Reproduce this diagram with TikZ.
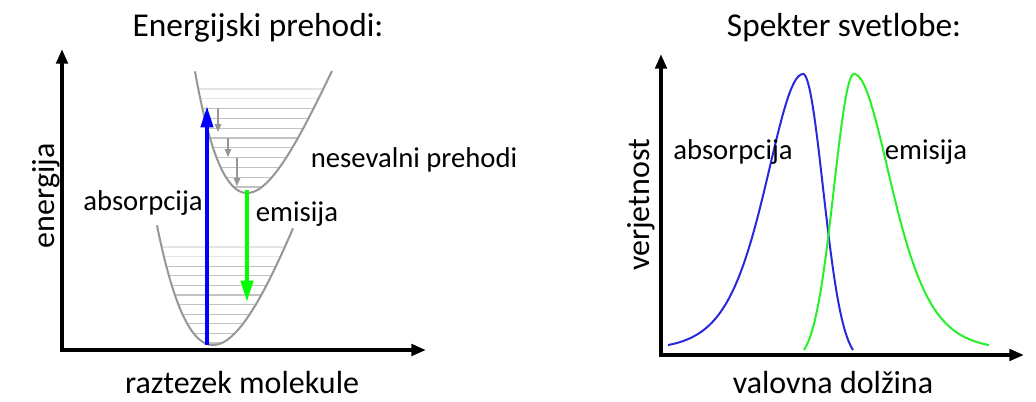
\documentclass[tikz,border=0pt]{standalone}
\usepackage{fontspec}
\setmainfont{Carlito}
\usetikzlibrary{arrows.meta}
\usetikzlibrary{positioning}
% lower well (ground state)
\pgfmathsetmacro{\gx}{213}
\pgfmathsetmacro{\gy}{345}
\pgfmathsetmacro{\gb}{0.0055}
\pgfmathsetmacro{\gD}{923}
% upper well (excited state)
\pgfmathsetmacro{\ex}{247}
\pgfmathsetmacro{\ey}{193}
\pgfmathsetmacro{\eb}{0.0073}
\pgfmathsetmacro{\eD}{572}
% spectrum
\pgfmathsetmacro{\sbase}{350}
\pgfmathsetmacro{\sh}{276}
\newcommand{\labfont}{\fontsize{21.5}{24}\selectfont}
\newcommand{\axfont}{\fontsize{24}{28}\selectfont}
\newcommand{\titfont}{\fontsize{25}{30}\selectfont}
\definecolor{wellgray}{RGB}{150,150,150}
\definecolor{absblue}{RGB}{0,0,255}
\definecolor{emgreen}{RGB}{0,255,0}
\definecolor{curveblue}{RGB}{40,40,220}
\definecolor{curvegreen}{RGB}{40,240,40}

\begin{document}
\begin{tikzpicture}[x=0.75pt, y=-0.75pt,
    axis/.style={line width=2.8pt, {Triangle[length=11pt,width=8.5pt]}-{Triangle[length=11pt,width=8.5pt]}},
    well/.style={wellgray, line width=1.5pt},
    level/.style={line width=0.9pt},
    relax/.style={wellgray, line width=0.8pt, -{Triangle[length=6pt,width=5pt]}},
    transit/.style={line width=3pt, -{Triangle[length=16pt,width=9pt]}},
    spec/.style={line width=1.5pt, smooth, samples=60},
    lab/.style={font=\labfont, inner sep=0pt},
    axlab/.style={font=\axfont, inner sep=0pt},
    tit/.style={font=\titfont, inner sep=0pt}]
\useasboundingbox (0,0) rectangle (1036,401);

%% left: energy levels
\node[tit] (tleft) at (258,28) {Energijski prehodi:};
\node[axlab, rotate=90] (yleft) at (46,196) {energija};
\node[axlab] (xleft) at (242,382) {raztezek molekule};

% vibrational levels of the lower well
\foreach \k in {0,...,10}{
    \pgfmathsetmacro{\h}{2+9.6*\k}
    \pgfmathsetmacro{\s}{sqrt(\h/\gD)}
    \pgfmathsetmacro{\xa}{\gx-ln(1+\s)/\gb}
    \pgfmathsetmacro{\xb}{\gx-ln(1-\s)/\gb}
    \pgfmathsetmacro{\tone}{\k>8 ? 20 : 48}
    \draw[level, gray!\tone] (\xa,\gy-\h) -- (\xb,\gy-\h);
}
% vibrational levels of the upper well
\foreach \k in {0,...,10}{
    \pgfmathsetmacro{\h}{6+9.8*\k}
    \pgfmathsetmacro{\s}{sqrt(\h/\eD)}
    \pgfmathsetmacro{\xa}{\ex-ln(1+\s)/\eb}
    \pgfmathsetmacro{\xb}{\ex-ln(1-\s)/\eb}
    \pgfmathsetmacro{\tone}{\k>8 ? 20 : 48}
    \draw[level, gray!\tone] (\xa,\ey-\h) -- (\xb,\ey-\h);
}
\draw[well] plot[domain=157:293, samples=80, smooth] (\x, {\gy-\gD*(1-exp(-\gb*(\x-\gx)))^2});
\draw[well] plot[domain=195:332, samples=80, smooth] (\x, {\ey-\eD*(1-exp(-\eb*(\x-\ex)))^2});

% radiationless steps
\draw[relax] (218,108) -- (218,132);
\draw[relax] (228,138) -- (228,157);
\draw[relax] (237,158) -- (237,186);

\draw[transit, absblue] (207,345) -- (207,106);
\draw[transit, emgreen] (247,190) -- (247,302);

\node[lab] (absl) at (143,203) {absorpcija};
\node[lab] (eml) at (297,214) {emisija};
\node[lab] (nes) at (414,160) {nesevalni prehodi};

\draw[axis] (62,49) -- (62,350) -- (426,350);

%% right: spectrum
\node[tit] (tright) at (844,28) {Spekter svetlobe:};
\node[axlab, rotate=90] (yright) at (641,205) {verjetnost};
\node[axlab] (xright) at (833,382) {valovna dol\v{z}ina};

\draw[spec, curveblue] plot[domain=668:803] (\x, {\sbase-\sh/(cosh((\x-803)/50))^2})
    -- plot[domain=803:853] (\x, {\sbase-\sh*(exp(-((\x-803)/20)^2/2)-0.044)/0.956});
\draw[spec, curvegreen] plot[domain=804:854] (\x, {\sbase-\sh*(exp(-((854-\x)/20)^2/2)-0.044)/0.956})
    -- plot[domain=854:989] (\x, {\sbase-\sh/(cosh((854-\x)/50))^2});

\node[lab] (absr) at (733,152) {absorpcija};
\node[lab] (emr) at (926,152) {emisija};

\draw[axis] (661,54) -- (661,355) -- (1024,355);
\end{tikzpicture}
\end{document}
